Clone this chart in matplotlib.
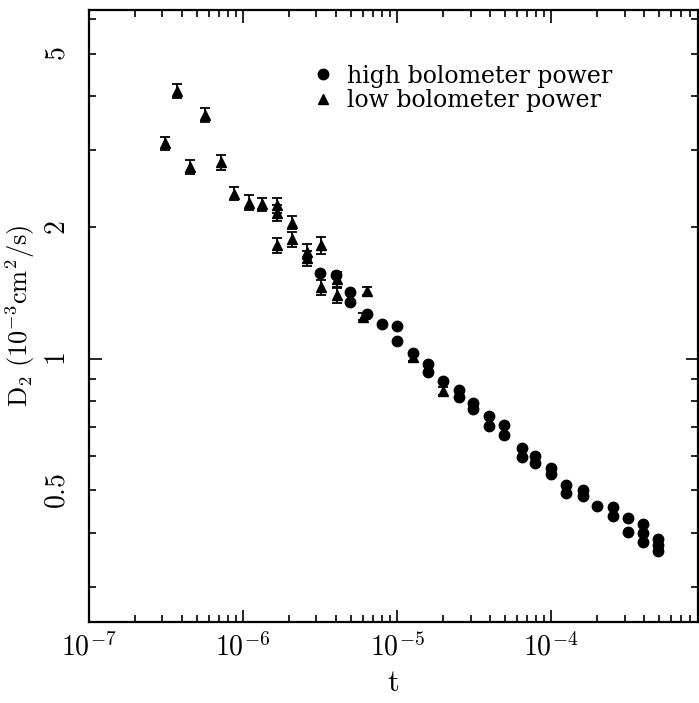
import numpy as np
import matplotlib
matplotlib.use("Agg")
import matplotlib.pyplot as plt
from matplotlib.lines import Line2D
from matplotlib.ticker import LogLocator, FixedLocator, FuncFormatter, NullFormatter

plt.rcParams['font.family'] = 'serif'
plt.rcParams['font.serif'] = ['DejaVu Serif']
plt.rcParams['mathtext.fontset'] = 'cm'

# low bolometer power (triangles), t, D2 and relative error
t_low = [3.12e-7, 3.72e-7, 4.53e-7, 5.66e-7, 7.19e-7, 8.74e-7, 1.09e-6, 1.33e-6,
         1.66e-6, 1.66e-6, 1.66e-6, 2.08e-6, 2.08e-6, 2.61e-6, 2.61e-6,
         3.21e-6, 3.21e-6, 4.07e-6, 4.07e-6, 6.0e-6, 6.38e-6, 1.27e-5, 1.99e-5]
D_low = [3.12, 4.11, 2.75, 3.62, 2.82, 2.39, 2.28, 2.26,
         2.25, 2.16, 1.82, 2.05, 1.88, 1.76, 1.70,
         1.82, 1.46, 1.52, 1.40, 1.25, 1.43, 1.01, 0.845]
err_low = [0.035, 0.035, 0.035, 0.035, 0.04, 0.035, 0.04, 0.035,
           0.04, 0.04, 0.04, 0.035, 0.04, 0.04, 0.04,
           0.045, 0.04, 0.04, 0.04, 0.02, 0.02, 0.02, 0.02]

# high bolometer power (circles)
t_high = [3.16e-6, 4.02e-6, 4.95e-6, 4.95e-6, 6.38e-6, 8.0e-6, 1e-5, 1e-5,
          1.27e-5, 1.59e-5, 1.59e-5, 1.99e-5, 2.53e-5, 2.53e-5, 3.12e-5, 3.12e-5,
          3.96e-5, 3.96e-5, 4.95e-5, 4.95e-5, 6.48e-5, 6.48e-5, 7.87e-5, 7.87e-5,
          1e-4, 1e-4, 1.25e-4, 1.25e-4, 1.61e-4, 1.61e-4, 1.99e-4, 2.53e-4, 2.53e-4,
          3.16e-4, 3.16e-4, 3.96e-4, 3.96e-4, 3.96e-4, 4.95e-4, 4.95e-4, 4.95e-4]
D_high = [1.57, 1.56, 1.42, 1.35, 1.27, 1.20, 1.19, 1.10,
          1.03, 0.974, 0.934, 0.891, 0.849, 0.818, 0.793, 0.768,
          0.741, 0.703, 0.706, 0.670, 0.626, 0.597, 0.600, 0.578,
          0.563, 0.546, 0.515, 0.494, 0.501, 0.486, 0.461, 0.458, 0.437,
          0.433, 0.402, 0.419, 0.400, 0.381, 0.388, 0.375, 0.364]

labels = ['high bolometer power', 'low bolometer power']
y_labeled = [0.5, 2, 5]


def main():
    fig = plt.figure(figsize=(6.99, 7.03), dpi=100)
    ax = fig.add_axes([89 / 699, 1 - 622 / 703, 609 / 699, 612 / 703])

    ax.plot(t_high, D_high, 'o', color='k', ms=7.5)
    yerr = np.array(D_low) * np.array(err_low)
    ax.errorbar(t_low, D_low, yerr=yerr, fmt='^', color='k', ms=7,
                elinewidth=1.3, capsize=3.5, capthick=1.3)

    ax.set_xscale('log')
    ax.set_yscale('log')
    ax.set_xlim(1e-7, 9.0e-4)
    ax.set_ylim(0.25, 6.29)

    ax.xaxis.set_major_locator(LogLocator(base=10, numticks=10))
    ax.xaxis.set_minor_locator(LogLocator(base=10, subs=np.arange(2, 10), numticks=20))
    ax.xaxis.set_major_formatter(FuncFormatter(
        lambda v, p: r'$10^{%d}$' % int(round(np.log10(v)))))
    ax.xaxis.set_minor_formatter(NullFormatter())

    ax.yaxis.set_major_locator(FixedLocator([1]))
    ax.yaxis.set_minor_locator(LogLocator(base=10, subs=np.arange(2, 10), numticks=20))
    ax.yaxis.set_major_formatter(FuncFormatter(lambda v, p: r'$1$'))
    ax.yaxis.set_minor_formatter(FuncFormatter(
        lambda v, p: (r'$%g$' % v) if any(abs(v - s) < 1e-6 for s in y_labeled) else ''))

    ax.tick_params(which='both', direction='in', top=True, right=True,
                   labelsize=20, width=1.2)
    ax.tick_params(which='major', length=9)
    ax.tick_params(which='minor', length=5)
    ax.tick_params(axis='x', which='both', pad=8)
    ax.tick_params(axis='y', which='both', pad=13, labelrotation=90)
    for lab in ax.get_yticklabels(which='both'):
        lab.set_va('center')
    for s in ax.spines.values():
        s.set_linewidth(1.6)

    ax.set_xlabel(r'$\mathrm{t}$', fontsize=22, labelpad=4)
    ax.set_ylabel(r'$\mathrm{D_2\ (10^{-3}cm^2/s)}$', fontsize=19, labelpad=5)

    handles = [Line2D([], [], ls='', marker='o', color='k', ms=7.5),
               Line2D([], [], ls='', marker='^', color='k', ms=7)]
    ax.legend(handles, labels, loc='upper left', bbox_to_anchor=(0.35, 0.93),
              frameon=False, fontsize=17, handlelength=0.8, handletextpad=0.6,
              borderpad=0, labelspacing=0.05)

    fig.savefig('out.png', dpi=100)


if __name__ == "__main__":
    main()
